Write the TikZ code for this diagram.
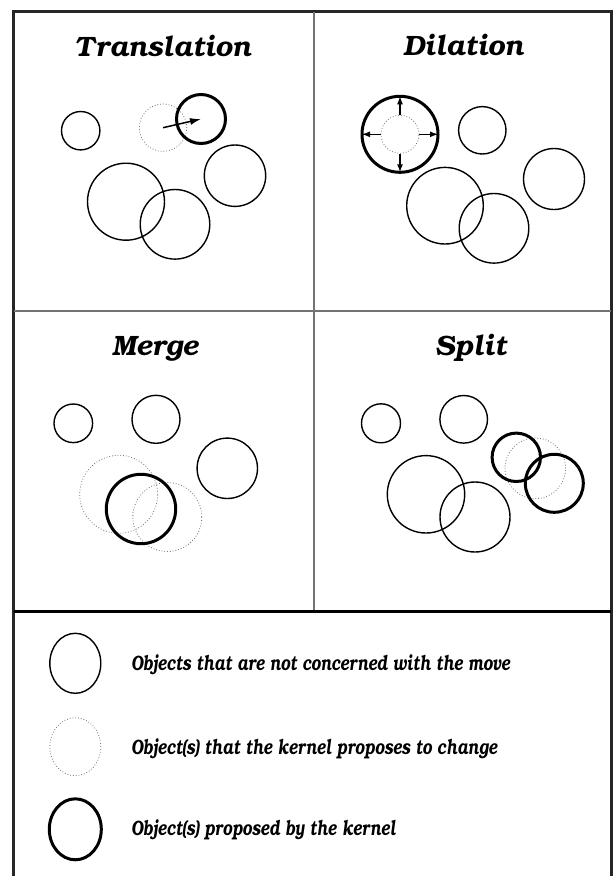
\documentclass[tikz,border=0pt]{standalone}
\usepackage[T1]{fontenc}
\usepackage{bookman}
\usetikzlibrary{arrows.meta,shapes.geometric}

\newcommand{\tallfont}[1]{\scalebox{0.985}[1.3]{#1}}

\begin{document}
\begin{tikzpicture}[x=1pt,y=-1pt,>=Latex,
  obj/.style={circle,draw,inner sep=0pt,line width=1.4pt,minimum size=#1},
  oldobj/.style={circle,draw=black!55,dotted,inner sep=0pt,line width=0.8pt,minimum size=#1},
  newobj/.style={circle,draw,inner sep=0pt,line width=3pt,minimum size=#1},
  title/.style={font=\fontsize{28}{32}\selectfont\bfseries\itshape,anchor=base},
  legend/.style={font=\fontsize{16}{19}\selectfont\bfseries\itshape,anchor=base west}]
  \clip (0,0) rectangle (614,876);
  \useasboundingbox (0,0) rectangle (614,876);
  % frame
  \draw[line width=3pt,black!85] (13.5,890) -- (13.5,11.5) -- (611,11.5) -- (611,890);
  \draw[line width=2pt,black!55] (313.7,11.5) -- (313.7,611.7);
  \draw[line width=2pt,black!55] (13.5,311) -- (611,311);
  \draw[line width=3pt] (13.5,611.7) -- (611,611.7);

  % translation
  \node[title] (ttrans) at (162.7,56) {Translation};
  \node[obj=38.4pt] (tr-a) at (80.7,130.7) {};
  \node[oldobj=47.4pt] (tr-old) at (163,127.7) {};
  \node[newobj=49pt] (tr-new) at (201,119) {};
  \node[obj=61.4pt] (tr-b) at (235,175.7) {};
  \node[obj=77pt] (tr-c) at (126,201.7) {};
  \node[obj=69.6pt] (tr-d) at (175,224.3) {};
  \draw[line width=1.5pt,-{Latex[length=11pt,width=7pt]}] (tr-old.center) -- (tr-new.center);

  % dilation
  \node[title] (tdil) at (463.3,55) {Dilation};
  \node[newobj=76pt] (di-new) at (400,134.3) {};
  \node[oldobj=38pt] (di-old) at (400,134.3) {};
  \node[obj=47.4pt] (di-a) at (482.3,130.3) {};
  \node[obj=61pt] (di-b) at (554,179) {};
  \node[obj=76.6pt] (di-c) at (445,205.7) {};
  \node[obj=69.6pt] (di-d) at (494,228.3) {};
  \foreach \dir in {north,south,east,west}
    \draw[line width=1.2pt,-{Latex[length=8pt,width=6pt]},shorten >=1.5pt] (di-old.\dir) -- (di-new.\dir);

  % merge
  \node[title] (tmerge) at (155,355) {Merge};
  \node[obj=38.6pt] (me-a) at (73.3,423.3) {};
  \node[obj=48pt] (me-b) at (156,419.3) {};
  \node[obj=60.4pt] (me-c) at (227.3,468.3) {};
  \node[oldobj=78pt] (me-old1) at (118.7,494.3) {};
  \node[oldobj=69pt] (me-old2) at (167.3,517) {};
  \node[newobj=69.4pt] (me-new) at (141,509) {};

  % split
  \node[title] (tsplit) at (470.7,355) {Split};
  \node[obj=39pt] (sp-a) at (381,423.3) {};
  \node[obj=47.6pt] (sp-b) at (463.7,419.3) {};
  \node[obj=77.4pt] (sp-c) at (426,494.3) {};
  \node[obj=70pt] (sp-d) at (475,517) {};
  \node[oldobj=60.6pt] (sp-old) at (535.3,468.3) {};
  \node[newobj=48.4pt] (sp-new1) at (516.3,457.3) {};
  \node[newobj=58pt] (sp-new2) at (554.3,483.3) {};

  % legend
  \node[ellipse,draw,line width=1.4pt,inner sep=0pt,minimum width=51pt,minimum height=60pt] (lg-obj) at (75.3,663.3) {};
  \node[ellipse,draw=black!55,dotted,line width=0.8pt,inner sep=0pt,minimum width=51pt,minimum height=58pt] (lg-old) at (75.3,746.7) {};
  \node[ellipse,draw,line width=3pt,inner sep=0pt,minimum width=52pt,minimum height=61pt] (lg-new) at (75.3,829.3) {};
  \node[legend] (txt-obj) at (127.7,670.7) {\tallfont{Objects that are not concerned with the move}};
  \node[legend] (txt-old) at (127.7,754.3) {\tallfont{Object(s) that the kernel proposes to change}};
  \node[legend] (txt-new) at (127.7,835.7) {\tallfont{Object(s) proposed by the kernel}};
\end{tikzpicture}
\end{document}
